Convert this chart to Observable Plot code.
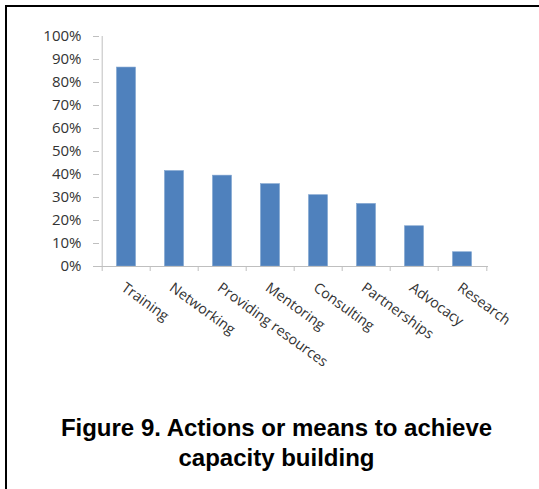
<!DOCTYPE html>
<html><head><meta charset="utf-8">
<script src="https://cdn.jsdelivr.net/npm/d3@7"></script>
<script src="https://cdn.jsdelivr.net/npm/@observablehq/plot@0.6"></script>
<style>
body{margin:0;background:#fff;}
#wrap{position:relative;width:539px;height:489px;overflow:hidden;background:#fff;}
#frame{position:absolute;left:5px;top:5px;width:700px;height:700px;border-top:2px solid #000;border-left:2px solid #000;}
#chart{position:absolute;left:0;top:0;}
#title{position:absolute;left:14px;width:525px;top:413px;text-align:center;font:bold 24px "Liberation Sans",Arial,sans-serif;line-height:30px;color:#000;}
</style></head>
<body>
<div id="wrap">
  <div id="frame"></div>
  <div id="chart"></div>
  <div id="title">Figure 9. Actions or means to achieve<br>capacity building</div>
</div>
<script>
const categories = ["Training","Networking","Providing resources","Mentoring","Consulting","Partnerships","Advocacy","Research"];
const values = [0.865, 0.415, 0.395, 0.358, 0.31, 0.272, 0.175, 0.062];
const yTicks = [0,0.1,0.2,0.3,0.4,0.5,0.6,0.7,0.8,0.9,1];
const yTickLabels = ["0%","10%","20%","30%","40%","50%","60%","70%","80%","90%","100%"];

const W = 539, H = 400;
const ml = 99, mr = 51, mt = 36, mb = H - 266;
const plotW = W - ml - mr;
const step = plotW / categories.length;
const data = categories.map((c, i) => ({category: c, value: values[i]}));
const axisColor = "#bfbfbf";
const textColor = "#333333";

const chart = Plot.plot({
  width: W, height: H,
  marginLeft: ml, marginRight: mr, marginTop: mt, marginBottom: mb,
  style: {fontFamily: "'Open Sans', sans-serif", fontSize: "14.3px", color: textColor, background: "transparent"},
  x: {domain: categories, padding: 0, axis: null},
  y: {domain: [0, 1], axis: null},
  marks: [
    Plot.barY(data, {x: "category", y: "value", fill: "#4F81BD", stroke: "#7fa3cf", strokeWidth: 0.6, insetLeft: 14.5, insetRight: 14.5}),
    Plot.ruleY([0], {stroke: axisColor}),
    Plot.ruleX([categories[0]], {y1: 0, y2: 1, dx: -step / 2, stroke: axisColor}),
    Plot.ruleX(categories, {y1: 0, y2: 0, insetBottom: -5, dx: -step / 2, stroke: axisColor}),
    Plot.ruleX([categories[categories.length - 1]], {y1: 0, y2: 0, insetBottom: -5, dx: step / 2, stroke: axisColor}),
    Plot.tickY(yTicks, {y: d => d, stroke: axisColor, insetLeft: -6, insetRight: plotW}),
    Plot.text(yTicks, {y: d => d, text: (d, i) => yTickLabels[i], frameAnchor: "left", textAnchor: "end", dx: -18, fill: textColor, fontSize: 15}),
    Plot.text(categories, {x: d => d, y: () => 0, text: d => d, rotate: 36, textAnchor: "start", lineAnchor: "top", dx: 0, dy: 15, fill: textColor})
  ]
});
document.getElementById("chart").appendChild(chart);
</script>
</body></html>
